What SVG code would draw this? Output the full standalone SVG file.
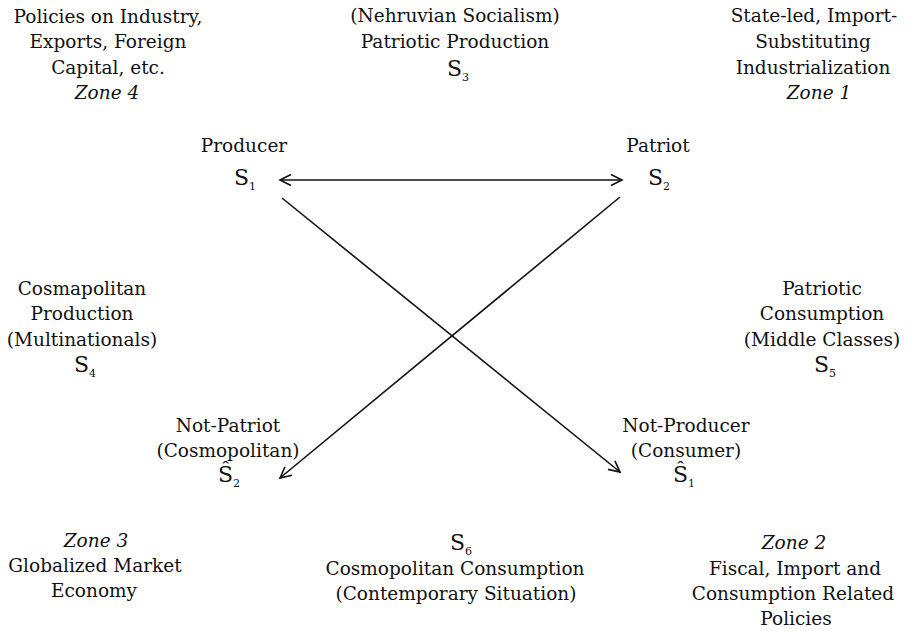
<svg xmlns="http://www.w3.org/2000/svg" width="917" height="631" viewBox="0 0 917 631">
<style>
text{font-family:"DejaVu Serif","Liberation Serif",serif;font-size:18.5px;fill:#111;text-anchor:middle}
.z{font-style:italic}
.s{font-size:22px}
.sub{font-size:11px}
.c{stroke:#111;stroke-width:1.6;fill:none}
</style>
<defs>
<marker id="ah" markerWidth="16" markerHeight="14" refX="14" refY="7" orient="auto-start-reverse" markerUnits="userSpaceOnUse">
<path d="M3,1.5 L14,7 L3,12.5" fill="none" stroke="#111" stroke-width="1.6"/>
</marker>
</defs>
<rect width="917" height="631" fill="#fff"/>
<g id="zone4"><text x="108" y="23">Policies on Industry,</text><text x="108" y="48">Exports, Foreign</text><text x="108" y="74">Capital, etc.</text><text x="107" y="99" class="z">Zone 4</text></g>
<g id="s3"><text x="455" y="22">(Nehruvian Socialism)</text><text x="455" y="48">Patriotic Production</text><text x="458" y="76" class="s">S<tspan class="sub" dy="5">3</tspan></text></g>
<g id="zone1"><text x="814" y="22">State-led, Import-</text><text x="813" y="48">Substituting</text><text x="813" y="74">Industrialization</text><text x="819" y="99" class="z">Zone 1</text></g>
<g id="producer"><text x="244" y="152">Producer</text><text x="245" y="185" class="s">S<tspan class="sub" dy="5">1</tspan></text></g>
<g id="patriot"><text x="658" y="152">Patriot</text><text x="659" y="185" class="s">S<tspan class="sub" dy="5">2</tspan></text></g>
<g id="s4"><text x="82" y="295">Cosmapolitan</text><text x="82" y="320">Production</text><text x="82" y="346">(Multinationals)</text><text x="85" y="372" class="s">S<tspan class="sub" dy="5">4</tspan></text></g>
<g id="s5"><text x="822" y="295">Patriotic</text><text x="822" y="320">Consumption</text><text x="822" y="346">(Middle Classes)</text><text x="825" y="372" class="s">S<tspan class="sub" dy="5">5</tspan></text></g>
<g id="notpatriot"><text x="228" y="432">Not-Patriot</text><text x="228" y="457">(Cosmopolitan)</text><text x="229" y="482" class="s">Ŝ<tspan class="sub" dy="5">2</tspan></text></g>
<g id="notproducer"><text x="686" y="432">Not-Producer</text><text x="686" y="457">(Consumer)</text><text x="684" y="482" class="s">Ŝ<tspan class="sub" dy="5">1</tspan></text></g>
<g id="zone3"><text x="96" y="547" class="z">Zone 3</text><text x="95" y="572">Globalized Market</text><text x="94" y="597">Economy</text></g>
<g id="s6"><text x="461" y="550" class="s">S<tspan class="sub" dy="5">6</tspan></text><text x="455" y="575">Cosmopolitan Consumption</text><text x="456" y="600">(Contemporary Situation)</text></g>
<g id="zone2"><text x="794" y="549" class="z">Zone 2</text><text x="795" y="575">Fiscal, Import and</text><text x="793" y="600">Consumption Related</text><text x="796" y="625">Policies</text></g>
<g id="connectors">
<line class="c" x1="280" y1="180" x2="622" y2="180" marker-start="url(#ah)" marker-end="url(#ah)"/>
<line class="c" x1="282" y1="198" x2="620" y2="472" marker-end="url(#ah)"/>
<line class="c" x1="620" y1="197" x2="280" y2="478" marker-end="url(#ah)"/>
</g>
</svg>
